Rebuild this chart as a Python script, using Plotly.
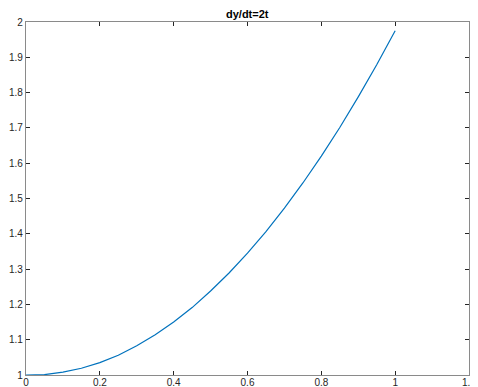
import plotly.graph_objects as go

t_values = [0.0, 0.05, 0.1, 0.15, 0.2, 0.25, 0.3, 0.35, 0.4, 0.45, 0.5,
            0.55, 0.6, 0.65, 0.7, 0.75, 0.8, 0.85, 0.9, 0.95, 1.0]
y_values = [1.000, 1.001, 1.008, 1.019, 1.035, 1.056, 1.083, 1.114, 1.150, 1.191, 1.238,
            1.289, 1.345, 1.406, 1.473, 1.544, 1.620, 1.701, 1.788, 1.879, 1.975]
x_ticks = [0, 0.2, 0.4, 0.6, 0.8, 1, 1.2]
x_tick_labels = ["0", "0.2", "0.4", "0.6", "0.8", "1", "1.2"]
y_ticks = [1, 1.1, 1.2, 1.3, 1.4, 1.5, 1.6, 1.7, 1.8, 1.9, 2]
y_tick_labels = ["1", "1.1", "1.2", "1.3", "1.4", "1.5", "1.6", "1.7", "1.8", "1.9", "2"]
title_text = "dy/dt=2t"

fig = go.Figure(go.Scatter(x=t_values, y=y_values, mode="lines",
                           line=dict(color="#0072BD", width=1.2)))

axis_common = dict(showgrid=False, zeroline=False, showline=True, linecolor="#8a8a8a",
                   linewidth=1.3, mirror="ticks", ticks="inside", ticklen=4,
                   tickcolor="#262626", tickwidth=1, automargin=False,
                   ticklabeloverflow="allow",
                   tickfont=dict(family="Liberation Sans, Arial, sans-serif", size=10, color="#262626"))

# the page body has an 8px margin, so the figure is made 8px smaller and margins shifted
fig.update_layout(
    width=470, height=379,
    margin=dict(l=18, r=9, t=14, b=12),
    plot_bgcolor="white", paper_bgcolor="white",
    showlegend=False,
    xaxis=dict(range=[0, 1.2], tickvals=x_ticks, ticktext=x_tick_labels,
               ticklabelstandoff=-2, **axis_common),
    yaxis=dict(range=[1, 2], tickvals=y_ticks, ticktext=y_tick_labels, **axis_common),
)
fig.add_annotation(text="<b>" + title_text + "</b>", x=0.5, xref="paper", y=1, yref="paper",
                   xanchor="center", yanchor="bottom", yshift=1, borderpad=0, showarrow=False,
                   font=dict(family="Liberation Sans, Arial, sans-serif", size=11, color="#000"))

fig.write_html("out.html")
